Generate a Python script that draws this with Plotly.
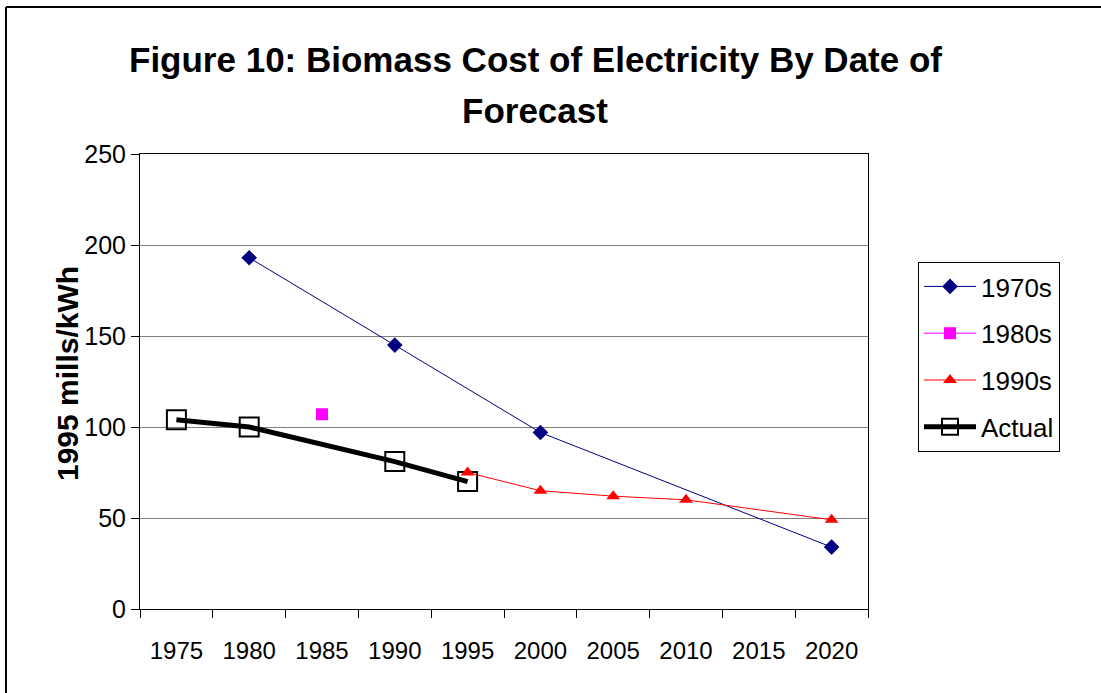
import plotly.graph_objects as go

years = ["1975", "1980", "1985", "1990", "1995", "2000", "2005", "2010", "2015", "2020"]
s1970 = [None, 193, None, 145, None, 97, None, None, None, 34]
s1980 = [None, None, 107, None, None, None, None, None, None, None]
s1990 = [None, None, None, None, 75, 65, 62, 60, None, 49]
actual = [104, 100, None, 81, 70, None, None, None, None, None]
title_lines = ["Figure 10: Biomass Cost of Electricity By Date of", "Forecast"]

W, H = 1101, 693
L, R, T, B = 140, 233, 154, 84
pw, ph = W - L - R, H - T - B

def px(x):
    return (x - L) / pw

def py(y):
    return (H - B - y) / ph

fig = go.Figure()
fig.add_trace(go.Scatter(x=years, y=actual, name="Actual", mode="lines+markers", connectgaps=True,
                         line=dict(color="black", width=5),
                         marker=dict(symbol="square-open", size=19, color="black", line=dict(width=2)),
                         legendrank=4, legendgroup="d"))
fig.add_trace(go.Scatter(x=years, y=s1970, name="1970s", mode="lines+markers", connectgaps=True,
                         line=dict(color="#000080", width=1),
                         marker=dict(symbol="diamond", size=12, color="#000080"),
                         legendrank=1, legendgroup="a"))
fig.add_trace(go.Scatter(x=years, y=s1980, name="1980s", mode="lines+markers", connectgaps=True,
                         line=dict(color="#FF00FF", width=1),
                         marker=dict(symbol="square", size=12, color="#FF00FF"),
                         legendrank=2, legendgroup="b"))
fig.add_trace(go.Scatter(x=years, y=s1990, name="1990s", mode="lines+markers", connectgaps=True,
                         line=dict(color="#FF0000", width=1),
                         marker=dict(symbol="triangle-up", size=12, color="#FF0000"),
                         legendrank=3, legendgroup="c"))

font = "Liberation Sans, Arial, sans-serif"
fig.update_layout(
    template="none",
    width=W, height=H,
    margin=dict(l=L, r=R, t=T, b=B),
    paper_bgcolor="white", plot_bgcolor="white",
    font=dict(family=font, color="black"),
    xaxis=dict(type="category", range=[-0.5, 9.5], showgrid=False,
               showline=True, linecolor="black", linewidth=1, mirror=True,
               ticks="outside", tickson="boundaries", ticklen=8, tickcolor="black",
               tickfont=dict(size=24), ticklabelstandoff=20, automargin=False),
    yaxis=dict(range=[0, 250], dtick=50, showgrid=True, gridcolor="#808080", gridwidth=1,
               showline=True, linecolor="black", linewidth=1, mirror=True,
               ticks="outside", ticklen=8, tickcolor="black", zeroline=False,
               tickfont=dict(size=25), automargin=False),
    legend=dict(x=px(918), y=py(262), xanchor="left", yanchor="top",
                bordercolor="black", borderwidth=1, bgcolor="white",
                font=dict(size=26), tracegroupgap=10, itemwidth=52),
    showlegend=True,
)

for i, (txt, yc) in enumerate(zip(title_lines, [59, 111])):
    fig.add_annotation(text="<b>" + txt + "</b>", xref="paper", yref="paper",
                       x=px(535), y=py(yc), xanchor="center", yanchor="middle", showarrow=False,
                       font=dict(size=35, family=font, color="black"))

fig.add_annotation(text="<b>1995 mills/kWh</b>", textangle=-90, xref="paper", yref="paper",
                   x=px(67), y=py(374), xanchor="center", yanchor="middle", showarrow=False,
                   font=dict(size=30, family=font, color="black"))

fig.add_shape(type="line", xref="paper", yref="paper", x0=px(6), x1=px(W + 5), y0=py(7), y1=py(7),
              line=dict(color="black", width=2))
fig.add_shape(type="line", xref="paper", yref="paper", x0=px(6), x1=px(6), y0=py(7), y1=py(H + 5),
              line=dict(color="black", width=2))

fig.write_html("out.html", config={"displayModeBar": False},
               post_script="document.body.style.margin='0';document.body.style.overflow='hidden';")
